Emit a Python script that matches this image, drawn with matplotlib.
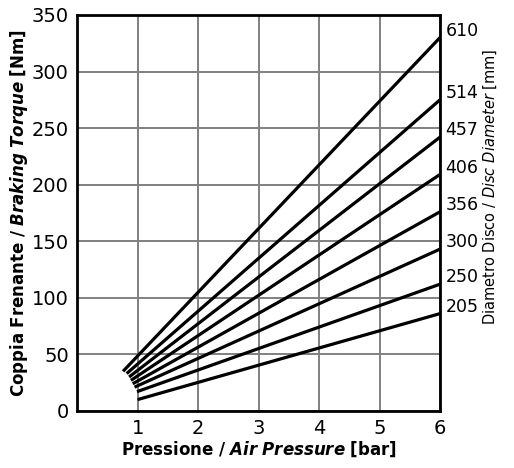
import matplotlib
matplotlib.use("Agg")
import matplotlib.pyplot as plt
from matplotlib import font_manager

# Disc diameters [mm] and the start / end points of each torque line
diameters = [610, 514, 457, 406, 356, 300, 250, 205]
p_start = [0.76, 0.82, 0.86, 0.89, 0.92, 0.95, 0.99, 1.0]
t_start = [35, 33, 30, 27, 24, 21, 17, 10]
p_end = [6, 6, 6, 6, 6, 6, 6, 6]
t_end = [330, 275, 242, 209, 176, 143, 112, 86]

x_ticks = [1, 2, 3, 4, 5, 6]
y_ticks = [0, 50, 100, 150, 200, 250, 300, 350]

# a narrow face looks closer to the technical lettering, if there is one
names = {f.name for f in font_manager.fontManager.ttflist}
narrow = "Liberation Sans Narrow" if "Liberation Sans Narrow" in names else "DejaVu Sans"

plt.rcParams["font.family"] = ["DejaVu Sans"]
plt.rcParams["mathtext.fontset"] = "custom"
plt.rcParams["mathtext.rm"] = "DejaVu Sans"
plt.rcParams["mathtext.it"] = "DejaVu Sans:italic"
plt.rcParams["mathtext.bf"] = "DejaVu Sans:bold"
plt.rcParams["mathtext.bfit"] = "DejaVu Sans:italic:bold"

fig = plt.figure(figsize=(5.14, 4.68), dpi=100)
ax = fig.add_axes([0.150, 0.122, 0.706, 0.846])

for d, x0, y0, x1, y1 in zip(diameters, p_start, t_start, p_end, t_end):
    ax.plot([x0, x1], [y0, y1], color="black", lw=2.3, solid_capstyle="butt", zorder=3)
    ax.annotate(str(d), xy=(x1, y1), xytext=(4, 5), textcoords="offset points",
                ha="left", va="center", fontsize=12.5, family=narrow,
                annotation_clip=False)

ax.set_xlim(0, 6)
ax.set_ylim(0, 350)
ax.set_xticks(x_ticks)
ax.set_yticks(y_ticks)
ax.tick_params(length=0, labelsize=12.5, pad=6)
for lab in ax.get_xticklabels() + ax.get_yticklabels():
    lab.set_family(narrow)
    lab.set_fontsize(14)
ax.grid(True, color="#808080", lw=1.4)
ax.set_axisbelow(True)
for s in ax.spines.values():
    s.set_linewidth(2)

ax.set_xlabel(r"$\mathbf{Pressione\ /\ }\mathbfit{Air\ Pressure}\mathbf{\ [bar]}$",
              fontsize=12, labelpad=1)
ax.set_ylabel(r"$\mathbf{Coppia\ Frenante\ /\ }\mathbfit{Braking\ Torque}\mathbf{\ [Nm]}$",
              fontsize=12, labelpad=1)
ax.text(1.14, 0.565, r"Diametro Disco / $\mathit{Disc\ Diameter}$ [mm]",
        transform=ax.transAxes, rotation=90, ha="center", va="center", fontsize=10.5)

fig.savefig("out.png", dpi=100)
